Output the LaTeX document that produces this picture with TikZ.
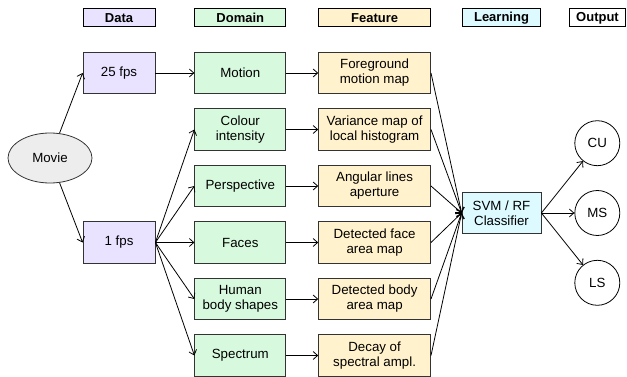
\documentclass[tikz,border=0pt]{standalone}
\usepackage{fontspec}
\setmainfont{Liberation Sans}
\usepackage{tikz}
\usetikzlibrary{positioning,shapes.geometric,arrows.meta}
\definecolor{datacol}{HTML}{E9E3FF}
\definecolor{domaincol}{HTML}{D7F9DE}
\definecolor{featurecol}{HTML}{FFF2CC}
\definecolor{learncol}{HTML}{DCFAFF}
\definecolor{moviecol}{HTML}{EDEDED}
\definecolor{edgecol}{HTML}{333333}

\begin{document}
\begin{tikzpicture}[x=1pt,y=1pt,>={Straight Barb[length=4.5pt,width=8pt]},line width=0.8pt,
  every node/.style={font=\fontsize{13.3}{15}\selectfont,align=center,inner sep=2pt}]
\tikzstyle{box node}=[rectangle,draw=edgecol,minimum height=41.5pt]
\tikzstyle{head node}=[rectangle,draw=black,line width=1pt,minimum height=18pt,font=\fontsize{13}{15}\selectfont\bfseries]

\tikzset{
	data node/.style={box node,fill=datacol,minimum width=72pt},
	domain node/.style={box node,fill=domaincol,minimum width=91pt},
	feature node/.style={box node,fill=featurecol,minimum width=112pt},
	learn node/.style={box node,fill=learncol,minimum width=79pt},
	out node/.style={circle,draw=black,minimum size=45pt},
	movie node/.style={ellipse,draw=edgecol,fill=moviecol,minimum width=84pt,minimum height=50pt}
}
\useasboundingbox (0,0) rectangle (627,-377);

    \node[movie node] (movie) at (50,-158) {Movie};
    \node[data node] (25fps) at (119,-73) {25 fps};
    \node[domain node] (motion) [right=39pt of 25fps] {Motion};
    \node[domain node] (colour) [below=14.2pt of motion] {Colour\\intensity};
    \node[domain node] (persp) [below=14.2pt of colour] {Perspective};
    \node[domain node] (faces) [below=14.2pt of persp] {Faces};
    \node[domain node] (human) [below=14.2pt of faces] {Human\\body shapes};
    \node[domain node] (spectrum) [below=14.2pt of human] {Spectrum};
    \node[data node] (1fps) [left=39pt of faces] {1 fps};

    \node[feature node] (fgmap) [right=32pt of motion] {Foreground\\motion map};
    \node[feature node] (varmap) [right=32pt of colour] {Variance map of\\local histogram};
    \node[feature node] (angmap) [right=32pt of persp] {Angular lines\\aperture};
    \node[feature node] (facemap) [right=32pt of faces] {Detected face\\area map};
    \node[feature node] (bodymap) [right=32pt of human] {Detected body\\area map};
    \node[feature node] (decay) [right=32pt of spectrum] {Decay of\\spectral ampl.};

    \node[learn node] (svm) at (501.5,-213) {SVM / RF\\Classifier};
    \node[out node] (ms) [right=33pt of svm] {MS};
    \node[out node] (cu) [above=24pt of ms] {CU};
    \node[out node] (ls) [below=24pt of ms] {LS};

    % column headers
    \node[head node,fill=datacol,minimum width=72pt] (hdata) at (25fps |- 0,-18) {Data};
    \node[head node,fill=domaincol,minimum width=91pt] (hdomain) at (motion |- 0,-18) {Domain};
    \node[head node,fill=featurecol,minimum width=112pt] (hfeature) at (fgmap |- 0,-18) {Feature};
    \node[head node,fill=learncol,minimum width=78pt] (hlearn) at (svm |- 0,-18) {Learning};
    \node[head node,fill=white,minimum width=56pt] (hout) at (597.5,-18) {Output};

    \path[->]   (movie) edge (25fps.west)
                (movie) edge (1fps.west)
                (25fps) edge (motion)
                (1fps.east) edge (colour.west)
                (1fps.east) edge (persp.west)
                (1fps.east) edge (faces.west)
                (1fps.east) edge (human.west)
                (1fps.east) edge (spectrum.west)
                (motion) edge (fgmap)
                (colour) edge (varmap)
                (persp) edge (angmap)
                (faces) edge (facemap)
                (human) edge (bodymap)
                (spectrum) edge (decay)
                (fgmap.east) edge (svm.west)
                (varmap.east) edge (svm.west)
                (angmap.east) edge (svm.west)
                (facemap.east) edge (svm.west)
                (bodymap.east) edge (svm.west)
                (decay.east) edge (svm.west)
                (svm.east) edge (cu)
                (svm.east) edge (ms)
                (svm.east) edge (ls)
;
\end{tikzpicture}
\end{document}
